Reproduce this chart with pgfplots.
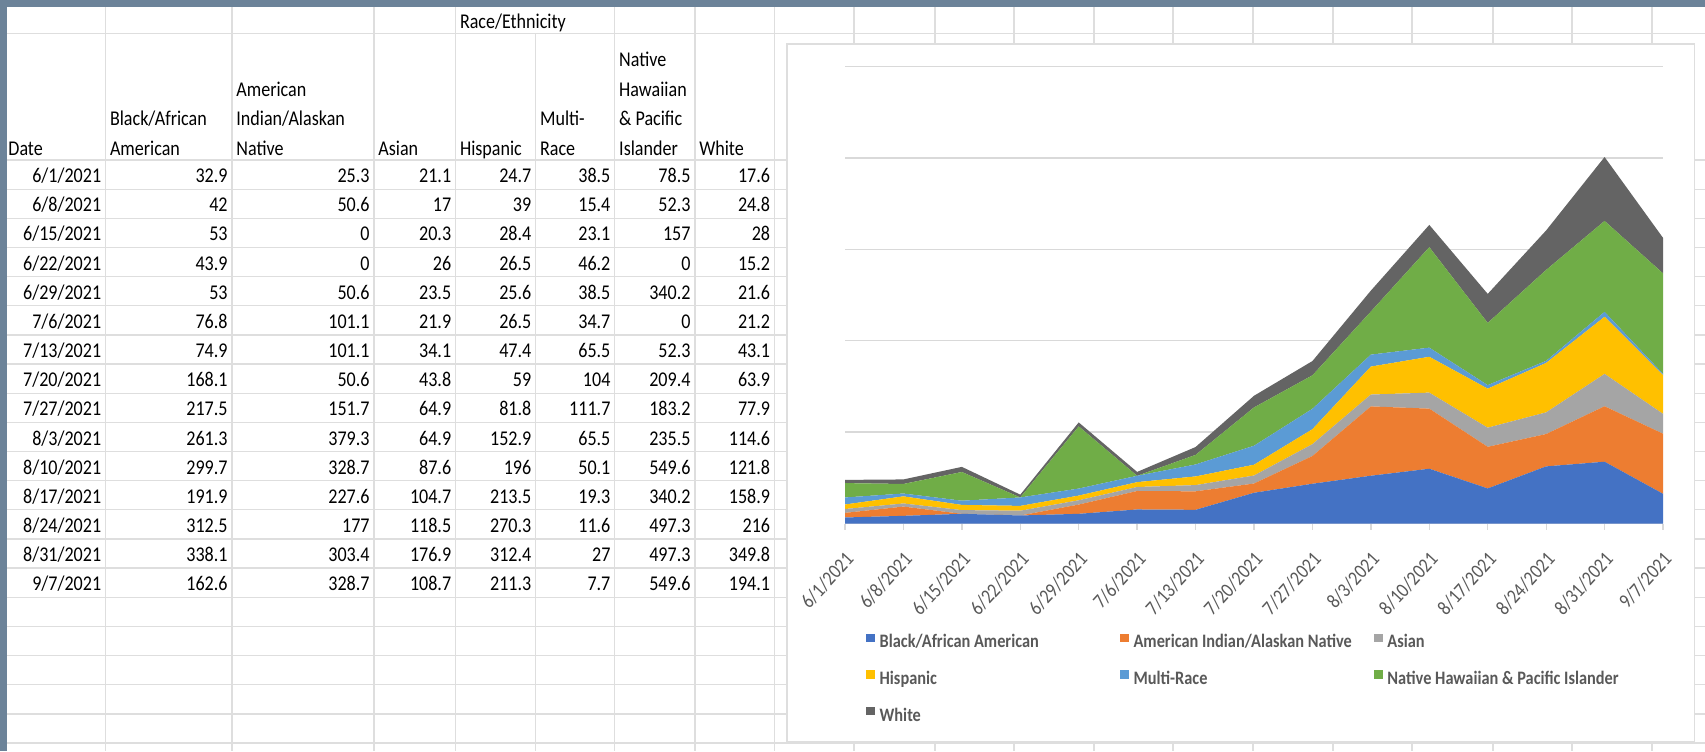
\documentclass[border=0pt]{standalone}
\usepackage{pgfplots}
\usepackage{pgfplotstable}
\pgfplotsset{compat=1.18}
\usepackage{fontspec}
\setmainfont{Carlito}[FakeStretch=0.86]
\definecolor{slate}{RGB}{108,131,153}
\definecolor{gridgray}{RGB}{217,217,217}
\definecolor{cellgray}{RGB}{222,222,222}
\definecolor{cBlack}{HTML}{4472C4}
\definecolor{cAIAN}{HTML}{ED7D31}
\definecolor{cAsian}{HTML}{A5A5A5}
\definecolor{cHisp}{HTML}{FFC000}
\definecolor{cMulti}{HTML}{5B9BD5}
\definecolor{cNHPI}{HTML}{70AD47}
\definecolor{cWhite}{HTML}{646464}
\definecolor{txtgray}{HTML}{595959}

\pgfplotstableread{
x black aian asian hisp multi nhpi white
0 32.9 25.3 21.1 24.7 38.5 78.5 17.6
1 42 50.6 17 39 15.4 52.3 24.8
2 53 0 20.3 28.4 23.1 157 28
3 43.9 0 26 26.5 46.2 0 15.2
4 53 50.6 23.5 25.6 38.5 340.2 21.6
5 76.8 101.1 21.9 26.5 34.7 0 21.2
6 74.9 101.1 34.1 47.4 65.5 52.3 43.1
7 168.1 50.6 43.8 59 104 209.4 63.9
8 217.5 151.7 64.9 81.8 111.7 183.2 77.9
9 261.3 379.3 64.9 152.9 65.5 235.5 114.6
10 299.7 328.7 87.6 196 50.1 549.6 121.8
11 191.9 227.6 104.7 213.5 19.3 340.2 158.9
12 312.5 177 118.5 270.3 11.6 497.3 216
13 338.1 303.4 176.9 312.4 27 497.3 349.8
14 162.6 328.7 108.7 211.3 7.7 549.6 194.1
}\data

\newcommand\tfont{\fontsize{10.5pt}{12pt}\selectfont}
\newcommand\datarow[9]{%
  \pgfmathsetmacro\yb{160+29.15*(#1+1)-6.5}%
  \node[anchor=base east] at (101.6,\yb) {#2};%
  \node[anchor=base east] at (228,\yb) {#3};%
  \node[anchor=base east] at (370,\yb) {#4};%
  \node[anchor=base east] at (451.6,\yb) {#5};%
  \node[anchor=base east] at (531.7,\yb) {#6};%
  \node[anchor=base east] at (610.8,\yb) {#7};%
  \node[anchor=base east] at (690.9,\yb) {#8};%
  \node[anchor=base east] at (770.5,\yb) {#9};%
}

\begin{document}
\begin{tikzpicture}
\path[use as bounding box] (0pt,0pt) rectangle (852.5pt,-375.5pt);
\begin{scope}[x=0.5pt,y=-0.5pt]
\fill[white] (0,0) rectangle (1705,751);
% spreadsheet grid
\foreach \k in {0,...,20} {\draw[cellgray, line width=0.65pt] (0,{160+29.15*\k}) -- (1705,{160+29.15*\k});}
\draw[cellgray, line width=0.65pt] (0,33.3) -- (1705,33.3);
\foreach \xx in {105.6,232,374,455.6,614.8,694.9,774.5,854,935,1014,1094,1173,1253,1333,1412,1493,1572,1652}
  {\draw[cellgray, line width=0.65pt] (\xx,0) -- (\xx,751);}
\draw[cellgray, line width=0.65pt] (535.7,33.3) -- (535.7,751);
% header text
\begin{scope}[every node/.style={inner sep=0pt, anchor=base west, font=\tfont}]
\node at (459.6,28) {Race/Ethnicity};
\node at (8,155) {Date};
\node at (109.6,125.5) {Black/African};
\node at (109.6,155) {American};
\node at (236,96) {American};
\node at (236,125.5) {Indian/Alaskan};
\node at (236,155) {Native};
\node at (378,155) {Asian};
\node at (459.6,155) {Hispanic};
\node at (539.7,125.5) {Multi-};
\node at (539.7,155) {Race};
\node at (618.8,66.5) {Native};
\node at (618.8,96) {Hawaiian};
\node at (618.8,125.5) {\& Pacific};
\node at (618.8,155) {Islander};
\node at (698.9,155) {White};
\end{scope}
\begin{scope}[every node/.style={inner sep=0pt, font=\tfont}]
\datarow{0}{6/1/2021}{32.9}{25.3}{21.1}{24.7}{38.5}{78.5}{17.6}
\datarow{1}{6/8/2021}{42}{50.6}{17}{39}{15.4}{52.3}{24.8}
\datarow{2}{6/15/2021}{53}{0}{20.3}{28.4}{23.1}{157}{28}
\datarow{3}{6/22/2021}{43.9}{0}{26}{26.5}{46.2}{0}{15.2}
\datarow{4}{6/29/2021}{53}{50.6}{23.5}{25.6}{38.5}{340.2}{21.6}
\datarow{5}{7/6/2021}{76.8}{101.1}{21.9}{26.5}{34.7}{0}{21.2}
\datarow{6}{7/13/2021}{74.9}{101.1}{34.1}{47.4}{65.5}{52.3}{43.1}
\datarow{7}{7/20/2021}{168.1}{50.6}{43.8}{59}{104}{209.4}{63.9}
\datarow{8}{7/27/2021}{217.5}{151.7}{64.9}{81.8}{111.7}{183.2}{77.9}
\datarow{9}{8/3/2021}{261.3}{379.3}{64.9}{152.9}{65.5}{235.5}{114.6}
\datarow{10}{8/10/2021}{299.7}{328.7}{87.6}{196}{50.1}{549.6}{121.8}
\datarow{11}{8/17/2021}{191.9}{227.6}{104.7}{213.5}{19.3}{340.2}{158.9}
\datarow{12}{8/24/2021}{312.5}{177}{118.5}{270.3}{11.6}{497.3}{216}
\datarow{13}{8/31/2021}{338.1}{303.4}{176.9}{312.4}{27}{497.3}{349.8}
\datarow{14}{9/7/2021}{162.6}{328.7}{108.7}{211.3}{7.7}{549.6}{194.1}
\end{scope}
% chart frame
\filldraw[fill=white, draw=cellgray, line width=0.6pt] (787,44) rectangle (1694.5,741.7);
\end{scope}

\begin{axis}[
  at={(422.5pt,-261.75pt)}, anchor=south west,
  scale only axis, width=409pt, height=228.5pt,
  xmin=0, xmax=14, ymin=0, ymax=2500,
  stack plots=y,
  axis line style={draw=none},
  xtick={0,...,14},
  xticklabels={6/1/2021,6/8/2021,6/15/2021,6/22/2021,6/29/2021,7/6/2021,7/13/2021,7/20/2021,7/27/2021,8/3/2021,8/10/2021,8/17/2021,8/24/2021,8/31/2021,9/7/2021},
  xticklabel style={font=\fontsize{10.2pt}{12pt}\selectfont, text=txtgray, inner sep=0pt, xshift=2.5pt, yshift=-13pt, rotate=47.5, anchor=east},
  ytick={0,500,...,2500}, yticklabels={},
  ymajorgrids, grid style={gridgray, line width=0.65pt},
  tick pos=left, tick align=outside, major tick length=3pt,
  xtick style={draw=gridgray, line width=0.65pt},
  ytick style={draw=none},
  legend columns=3,
  legend cell align=left,
  legend style={draw=none, fill=none, at={(0.0183,-0.2313)}, anchor=north west,
    font=\fontsize{9.5pt}{11pt}\selectfont\bfseries, text=txtgray,
    /tikz/column sep=0pt, row sep=9.35pt,
    nodes={inner sep=0pt, text height=7pt, text depth=2pt}},
  legend image code/.code={\fill[#1] (0pt,0.3pt) rectangle (4.5pt,4.5pt); \path (6.65pt,0pt);},
]
\addplot[fill=cBlack, draw=none] table[x=x, y=black] {\data} \closedcycle;
\addlegendentry{\makebox[120.3pt][l]{Black/African American}}
\addplot[fill=cAIAN, draw=none] table[x=x, y=aian] {\data} \closedcycle;
\addlegendentry{\makebox[120.3pt][l]{American Indian/Alaskan Native}}
\addplot[fill=cAsian, draw=none] table[x=x, y=asian] {\data} \closedcycle;
\addlegendentry{\makebox[120.3pt][l]{Asian}}
\addplot[fill=cHisp, draw=none] table[x=x, y=hisp] {\data} \closedcycle;
\addlegendentry{\makebox[120.3pt][l]{Hispanic}}
\addplot[fill=cMulti, draw=none] table[x=x, y=multi] {\data} \closedcycle;
\addlegendentry{\makebox[120.3pt][l]{Multi-Race}}
\addplot[fill=cNHPI, draw=none] table[x=x, y=nhpi] {\data} \closedcycle;
\addlegendentry{\makebox[120.3pt][l]{Native Hawaiian \& Pacific Islander}}
\addplot[fill=cWhite, draw=none] table[x=x, y=white] {\data} \closedcycle;
\addlegendentry{\makebox[120.3pt][l]{White}}
\end{axis}

\begin{scope}[x=0.5pt,y=-0.5pt]
\fill[slate] (0,0) rectangle (1705,6.7);
\fill[slate] (0,0) rectangle (6.7,751);
\end{scope}
\end{tikzpicture}
\end{document}
